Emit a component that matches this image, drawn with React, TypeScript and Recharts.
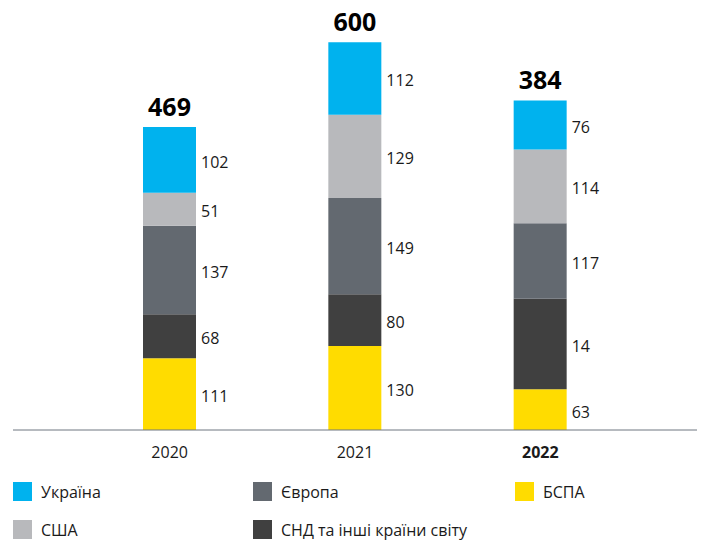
import React from 'react';
import { BarChart, Bar, XAxis, YAxis, LabelList, Legend } from 'recharts';

// categories
const years = ['2020', '2021', '2022'];

// series values, bottom of the stack first
const bspa = [111, 130, 63];
const cis = [68, 80, 140]; // 2022 segment is drawn ~140 tall
const europe = [137, 149, 117];
const usa = [51, 129, 114];
const ukraine = [102, 112, 76];

// printed labels (the 2022 CIS value is printed as 14 in the source)
const cisLabels = ['68', '80', '14'];
const totals = [469, 600, 384];

const data = years.map((year, i) => ({
  year,
  bspa: bspa[i],
  cis: cis[i],
  europe: europe[i],
  usa: usa[i],
  ukraine: ukraine[i],
}));

const series = [
  { key: 'bspa', name: 'БСПА', color: '#ffdc00' },
  { key: 'cis', name: 'СНД та інші країни світу', color: '#404040' },
  { key: 'europe', name: 'Європа', color: '#636970' },
  { key: 'usa', name: 'США', color: '#b8b9bc' },
  { key: 'ukraine', name: 'Україна', color: '#00b2ee' },
];

// legend reading order: top of the stack first, column by column
const legendOrder = ['ukraine', 'usa', 'europe', 'cis', 'bspa'];

const FONT = '"Open Sans", sans-serif';
const TEXT = '#1a1a1a';

const SegmentLabel = (labels: string[] | null) => (props: any) => {
  const { x, y, width, height, value, index } = props;
  const text = labels ? labels[index] : String(value);
  return (
    <text
      x={Number(x) + Number(width) + 5}
      y={Number(y) + Number(height) / 2 + 2}
      dominantBaseline="central"
      fontSize={16}
      fontFamily={FONT}
      fill={TEXT}
    >
      {text}
    </text>
  );
};

const TotalLabel = (props: any) => {
  const { x, y, width, index } = props;
  return (
    <text
      x={Number(x) + Number(width) / 2}
      y={Number(y) - 21}
      textAnchor="middle"
      dominantBaseline="central"
      fontSize={25}
      fontWeight={700}
      fontFamily={FONT}
      fill="#000"
    >
      {totals[index]}
    </text>
  );
};

const YearTick = (props: any) => {
  const { x, y, payload } = props;
  const last = payload.value === years[years.length - 1];
  return (
    <text
      x={x}
      y={Number(y) + 20}
      textAnchor="middle"
      dominantBaseline="central"
      fontSize={16}
      fontWeight={last ? 700 : 400}
      fontFamily={FONT}
      fill={TEXT}
    >
      {payload.value}
    </text>
  );
};

const LegendBlock = () => {
  const colX = [13, 253, 515];
  const rowY = [11, 49];
  return (
    <div style={{ position: 'relative', width: 704, height: 74, fontFamily: FONT }}>
      {legendOrder.map((key, i) => {
        const s = series.find((item) => item.key === key)!;
        const left = colX[Math.floor(i / 2)];
        const top = rowY[i % 2];
        return (
          <div key={key} style={{ position: 'absolute', left, top, display: 'flex', alignItems: 'center' }}>
            <div style={{ width: 19, height: 19, background: s.color }} />
            <span style={{ marginLeft: 9, fontSize: 16, color: TEXT, lineHeight: '19px', paddingTop: 2 }}>{s.name}</span>
          </div>
        );
      })}
    </div>
  );
};

export default function App() {
  return (
    <div style={{ position: 'absolute', left: 0, top: 0, width: 704, height: 544, background: '#fff' }}>
      <BarChart
        width={704}
        height={544}
        data={data}
        margin={{ top: 10, right: 7, bottom: 0, left: 13 }}
        barSize={53}
      >
        <XAxis
          dataKey="year"
          height={40}
          padding={{ left: 64, right: 64 }}
          axisLine={{ stroke: '#6e7780', strokeWidth: 1 }}
          tickLine={false}
          tickSize={0}
          tick={<YearTick />}
        />
        <YAxis hide domain={[0, 650]} />
        <Legend
          verticalAlign="bottom"
          content={<LegendBlock />}
          wrapperStyle={{ left: 0, bottom: 0, width: 704, height: 74 }}
        />
        {series.map((s) => (
          <Bar key={s.key} dataKey={s.key} name={s.name} stackId="a" fill={s.color} isAnimationActive={false}>
            <LabelList dataKey={s.key} content={SegmentLabel(s.key === 'cis' ? cisLabels : null)} />
            {s.key === 'ukraine' && <LabelList dataKey={s.key} content={TotalLabel} />}
          </Bar>
        ))}
      </BarChart>
    </div>
  );
}
